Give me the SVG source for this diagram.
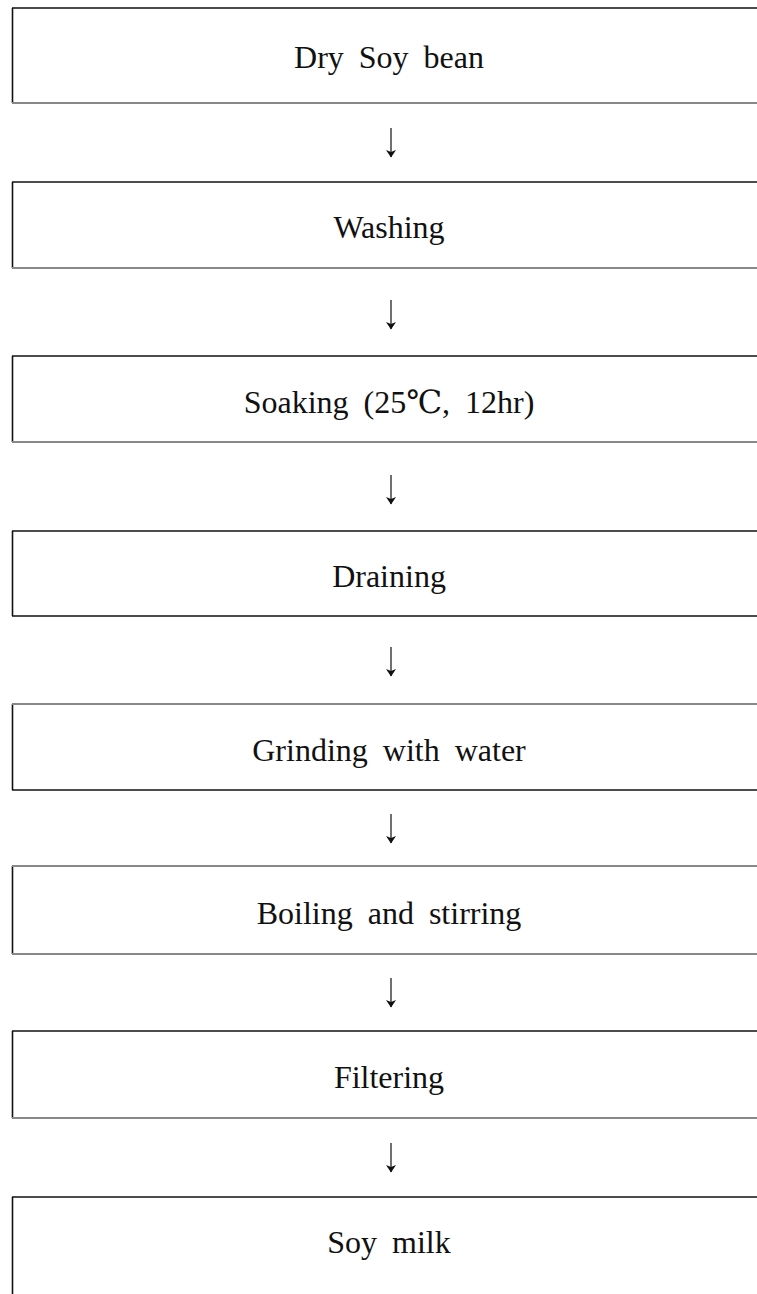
<svg xmlns="http://www.w3.org/2000/svg" width="757" height="1294" viewBox="0 0 757 1294">
<defs>
<style>
.lbl{font-family:"Liberation Serif","DejaVu Serif",serif;font-size:32px;fill:#111;text-anchor:middle;word-spacing:7px}
.bk{stroke:#111;stroke-width:1.6;fill:none}
.gr{stroke:#888;stroke-width:2;fill:none}
.ar{stroke:#222;stroke-width:1.3;fill:none}
</style>
<marker id="ah" viewBox="0 0 10 10" refX="9" refY="5" markerWidth="10" markerHeight="10" markerUnits="userSpaceOnUse" orient="auto">
<path d="M2,0 L9.5,5 L2,10 L4,5 Z" fill="#111"/>
</marker>
</defs>
<rect width="757" height="1294" fill="#fff"/>
<g id="n1">
<line class="bk" x1="12.5" y1="8" x2="12.5" y2="103"/>
<line class="bk" x1="12" y1="8" x2="757" y2="8"/>
<line class="gr" x1="12" y1="103" x2="757" y2="103"/>
<text class="lbl" x="389" y="68">Dry Soy bean</text>
</g>
<g id="n2">
<line class="bk" x1="12.5" y1="182" x2="12.5" y2="268"/>
<line class="bk" x1="12" y1="182" x2="757" y2="182"/>
<line class="gr" x1="12" y1="268" x2="757" y2="268"/>
<text class="lbl" x="389" y="238">Washing</text>
</g>
<g id="n3">
<line class="bk" x1="12.5" y1="356" x2="12.5" y2="442"/>
<line class="bk" x1="12" y1="356" x2="757" y2="356"/>
<line class="gr" x1="12" y1="442" x2="757" y2="442"/>
<text class="lbl" x="389" y="413">Soaking (25℃, 12hr)</text>
</g>
<g id="n4">
<line class="bk" x1="12.5" y1="531" x2="12.5" y2="616"/>
<line class="bk" x1="12" y1="531" x2="757" y2="531"/>
<line class="bk" x1="12" y1="616" x2="757" y2="616"/>
<text class="lbl" x="389" y="587">Draining</text>
</g>
<g id="n5">
<line class="bk" x1="12.5" y1="704" x2="12.5" y2="790"/>
<line class="gr" x1="12" y1="704" x2="757" y2="704"/>
<line class="bk" x1="12" y1="790" x2="757" y2="790"/>
<text class="lbl" x="389" y="761">Grinding with water</text>
</g>
<g id="n6">
<line class="bk" x1="12.5" y1="866" x2="12.5" y2="954"/>
<line class="gr" x1="12" y1="866" x2="757" y2="866"/>
<line class="gr" x1="12" y1="954" x2="757" y2="954"/>
<text class="lbl" x="389" y="924">Boiling and stirring</text>
</g>
<g id="n7">
<line class="bk" x1="12.5" y1="1031" x2="12.5" y2="1118"/>
<line class="bk" x1="12" y1="1031" x2="757" y2="1031"/>
<line class="gr" x1="12" y1="1118" x2="757" y2="1118"/>
<text class="lbl" x="389" y="1088">Filtering</text>
</g>
<g id="n8">
<line class="bk" x1="12.5" y1="1197" x2="12.5" y2="1294"/>
<line class="bk" x1="12" y1="1197" x2="757" y2="1197"/>
<text class="lbl" x="389" y="1253">Soy milk</text>
</g>
<g id="connectors">
<line class="ar" x1="391" y1="128" x2="391" y2="157" marker-end="url(#ah)"/>
<line class="ar" x1="391" y1="300" x2="391" y2="329" marker-end="url(#ah)"/>
<line class="ar" x1="391" y1="475" x2="391" y2="504" marker-end="url(#ah)"/>
<line class="ar" x1="391" y1="647" x2="391" y2="676" marker-end="url(#ah)"/>
<line class="ar" x1="391" y1="814" x2="391" y2="843" marker-end="url(#ah)"/>
<line class="ar" x1="391" y1="978" x2="391" y2="1007" marker-end="url(#ah)"/>
<line class="ar" x1="391" y1="1143" x2="391" y2="1172" marker-end="url(#ah)"/>
</g>
</svg>
